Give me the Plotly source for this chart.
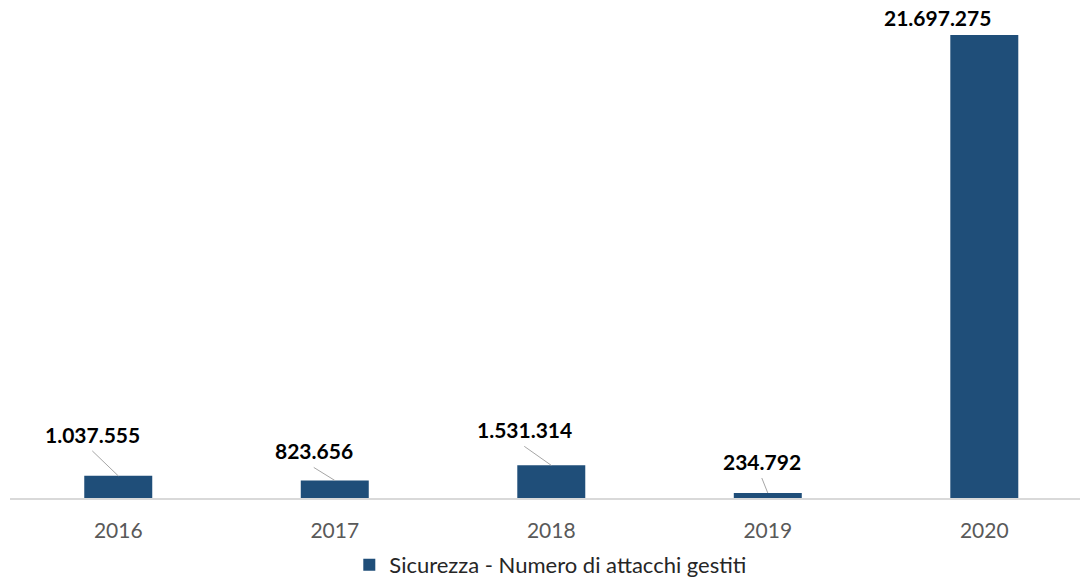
import plotly.graph_objects as go

# Attacks handled per year
years = ["2016", "2017", "2018", "2019", "2020"]
attacks = [1037555, 823656, 1531314, 234792, 21697275]
series_name = "Sicurezza - Numero di attacchi gestiti"

BAR_COLOR = "#1F4E79"
FONT = "Lato"


def it_format(n):
    """Thousands separated by dots, Italian style."""
    return f"{n:,}".replace(",", ".")


fig = go.Figure(
    go.Bar(
        x=years,
        y=attacks,
        name=series_name,
        marker=dict(color=BAR_COLOR, line=dict(width=0)),
        showlegend=True,
    )
)

# Leader-line tail offsets (px) relative to the top of each bar; None = no leader line
leader_offsets = [(-26, -25), (-21, -13), (-27, -19), (-6, -15), None]

# On a category axis annotations are placed by category index
for idx, (value, off) in enumerate(zip(attacks, leader_offsets)):
    if off is not None:
        fig.add_annotation(
            x=idx, y=value, xref="x", yref="y",
            text=f"<b>{it_format(value)}</b>",
            showarrow=True, arrowhead=0, arrowwidth=1, arrowcolor="#A6A6A6",
            ax=off[0], ay=off[1], axref="pixel", ayref="pixel",
            xanchor="center", yanchor="bottom",
            standoff=0, startstandoff=0, borderpad=3,
            font=dict(family=FONT, size=21, color="#000000"),
        )
    else:
        fig.add_annotation(
            x=idx, y=value, xref="x", yref="y",
            text=f"<b>{it_format(value)}</b>",
            showarrow=False, xanchor="center", yanchor="bottom",
            xshift=-47, yshift=3,
            font=dict(family=FONT, size=21, color="#000000"),
        )

fig.update_layout(
    width=1080, height=577,
    margin=dict(l=10, r=0, t=0, b=79, autoexpand=False),
    paper_bgcolor="white", plot_bgcolor="white",
    bargap=0.686,
    font=dict(family=FONT),
    xaxis=dict(
        type="category",
        range=[-0.5, 4.442],
        automargin=False,
        showgrid=False, zeroline=False,
        showline=True, linecolor="#D9D9D9", linewidth=2,
        ticks="", ticklabelstandoff=13,
        tickfont=dict(family=FONT, size=21, color="#595959"),
    ),
    yaxis=dict(
        range=[0, 23.34e6], visible=False, showgrid=False, zeroline=False,
        automargin=False,
    ),
    legend=dict(
        orientation="h",
        xref="container", x=0.510, xanchor="center",
        yref="container", y=0.021, yanchor="middle",
        font=dict(family=FONT, size=22, color="#262626"),
        itemwidth=30, bgcolor="rgba(0,0,0,0)",
    ),
)

fig.write_html("out.html")
